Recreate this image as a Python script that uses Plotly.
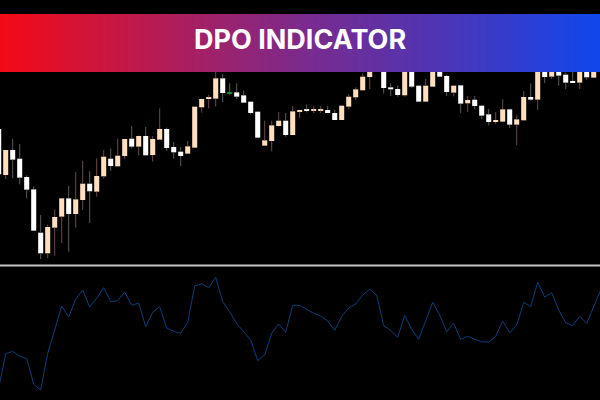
import plotly.graph_objects as go

# price readings per bar, in points above the bottom of the price pane
opens = [408, 270, 345, 319, 264, 227, 97, 35, 112, 145, 200, 153, 195, 244, 220, 266, 319, 296, 327, 379,
         355, 387, 330, 376, 408, 354, 340, 334, 352, 473, 498, 499, 560, 515, 518, 509, 490, 460, 358, 372,
         417, 433, 390, 460, 466, 463, 464, 465, 456, 435, 475, 503, 524, 564, 590, 600, 533, 528, 509, 590,
         538, 490, 535, 600, 567, 517, 539, 485, 496, 478, 452, 429, 430, 467, 421, 434, 504, 496, 590, 565,
         590, 571, 552, 547, 590, 562]
closes = [272, 345, 316, 262, 226, 103, 35, 114, 144, 200, 153, 197, 244, 221, 267, 325, 297, 328, 378, 355,
          387, 329, 378, 408, 351, 338, 327, 356, 475, 498, 502, 560, 516, 517, 505, 487, 456, 382, 374, 419,
          433, 390, 461, 465, 462, 466, 467, 456, 435, 478, 505, 527, 565, 590, 610, 531, 527, 510, 590, 535,
          490, 538, 590, 565, 519, 538, 484, 495, 477, 448, 429, 435, 467, 421, 437, 504, 496, 590, 564, 590,
          568, 547, 547, 590, 563, 590]
highs = [408, 345, 378, 363, 269, 236, 150, 121, 167, 200, 237, 279, 312, 281, 320, 345, 350, 379, 378, 417,
         388, 414, 387, 470, 412, 369, 354, 372, 477, 498, 510, 580, 573, 545, 545, 523, 492, 461, 433, 433,
         459, 456, 477, 465, 481, 478, 477, 477, 466, 478, 513, 533, 575, 600, 620, 610, 545, 538, 600, 600,
         538, 558, 600, 605, 570, 540, 540, 507, 507, 478, 468, 459, 497, 469, 449, 522, 545, 600, 600, 600,
         600, 577, 590, 600, 600, 600]
lows = [272, 258, 260, 242, 200, 103, 18, 21, 28, 66, 40, 112, 165, 126, 205, 259, 282, 295, 318, 349,
        328, 328, 310, 375, 342, 319, 297, 333, 352, 457, 470, 475, 489, 510, 498, 486, 453, 382, 357, 341,
        415, 385, 390, 441, 458, 456, 456, 456, 435, 435, 467, 495, 523, 528, 585, 514, 507, 505, 505, 531,
        490, 490, 535, 565, 507, 506, 456, 459, 468, 438, 419, 423, 430, 411, 360, 432, 493, 465, 546, 558,
        538, 528, 547, 528, 556, 562]

dpo = [-84, 19, 26, 11, 5, -73, -90, 20, 90, 162, 129, 182, 210, 159, 185, 217, 175, 178, 204, 164,
       171, 100, 143, 160, 96, 86, 80, 113, 222, 228, 217, 248, 175, 145, 109, 85, 60, -2, 15, 80,
       108, 83, 164, 164, 152, 140, 132, 117, 89, 131, 156, 168, 195, 212, 195, 103, 89, 68, 134, 92,
       62, 120, 173, 135, 85, 110, 62, 71, 62, 54, 54, 71, 117, 82, 104, 173, 160, 233, 189, 202,
       150, 112, 103, 131, 110, 160, 210]

title = "DPO INDICATOR"
green_bar = 33
banner_stops = [[0, 1, 2, 3, 4]]

BULL = "#ffdfbd"
BEAR = "#ffffff"
GREEN = "#0b8f2c"
BULL_WICK = "#6b4a4a"
BEAR_WICK = "#5c5c5c"
DPO_LINE = "#0c3f78"
BANNER = [[0, "#f40a16"], [0.25, "#b81b52"], [0.5, "#7c2a8c"], [0.75, "#4a36b8"], [1, "#0f47ee"]]

bars = list(range(len(opens)))


def bar_colour(i):
    if i == green_bar:
        return GREEN
    return BULL if closes[i] >= opens[i] else BEAR


def wick_trace(idx, colour):
    # scatter sits above bars in plotly, so leave the body span out of each wick
    xs, ys = [], []
    for i in idx:
        xs += [i, i, None, i, i, None]
        ys += [lows[i], min(opens[i], closes[i]), None, max(opens[i], closes[i]), highs[i], None]
    return go.Scatter(x=xs, y=ys, mode="lines", line=dict(color=colour, width=1),
                      hoverinfo="skip", xaxis="x", yaxis="y")


up = [i for i in bars if i != green_bar and closes[i] >= opens[i]]
down = [i for i in bars if i != green_bar and closes[i] < opens[i]]

fig = go.Figure()
fig.add_trace(wick_trace(up, BULL_WICK))
fig.add_trace(wick_trace(down, BEAR_WICK))
fig.add_trace(wick_trace([green_bar], GREEN))
fig.add_trace(go.Bar(x=bars,
                     y=[abs(c - o) for o, c in zip(opens, closes)],
                     base=[min(o, c) for o, c in zip(opens, closes)],
                     width=0.72,
                     marker=dict(color=[bar_colour(i) for i in bars], line_width=0),
                     xaxis="x", yaxis="y"))
fig.add_trace(go.Scatter(x=list(range(len(dpo))), y=dpo, mode="lines",
                         line=dict(color=DPO_LINE, width=1), xaxis="x2", yaxis="y2"))
fig.add_trace(go.Heatmap(z=banner_stops, colorscale=BANNER, showscale=False, zsmooth="best",
                         hoverinfo="skip", xaxis="x3", yaxis="y3"))

hidden = dict(visible=False, fixedrange=True)
fig.update_layout(
    width=600, height=400,
    margin=dict(l=0, r=0, t=0, b=0),
    paper_bgcolor="#000000",
    plot_bgcolor="#000000",
    showlegend=False,
    xaxis=dict(domain=[0, 1], range=[0.186, 85.9], **hidden),
    yaxis=dict(domain=[0.3375, 1], range=[0, 795], **hidden),
    xaxis2=dict(domain=[0, 1], range=[0.186, 85.9], anchor="y2", **hidden),
    yaxis2=dict(domain=[0, 0.335], range=[-120, 282], anchor="x2", **hidden),
    xaxis3=dict(domain=[0, 1], range=[0, 4], anchor="y3", **hidden),
    yaxis3=dict(domain=[0.82, 0.965], range=[-0.5, 0.5], anchor="x3", **hidden),
    shapes=[dict(type="line", xref="paper", yref="paper", x0=0, x1=1, y0=0.3365, y1=0.3365,
                 line=dict(color="#c4c4c4", width=2))],
    annotations=[dict(text="<b>" + title + "</b>", xref="paper", yref="paper", x=0.5, y=0.9025,
                      xanchor="center", yanchor="middle", showarrow=False,
                      font=dict(family="Inter", size=27, color="#ffffff"))],
)

# the page's default body margin would push the figure off by 8px
fig.write_html("out.html", config={"displayModeBar": False},
               post_script="document.body.style.margin='0';document.body.style.background='#000';")
